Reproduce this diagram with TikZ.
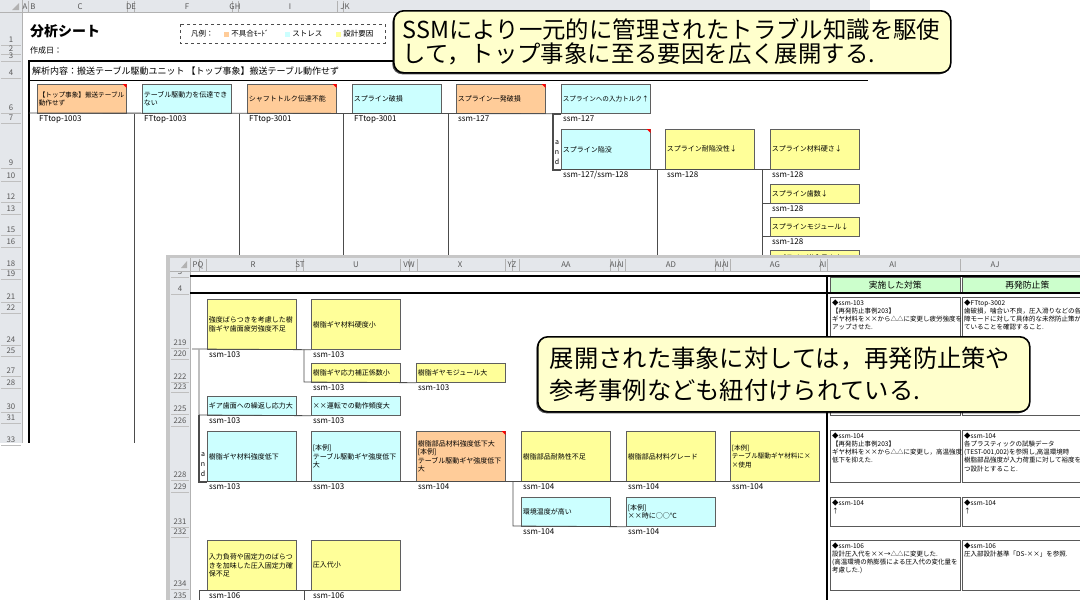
\documentclass[tikz,border=0pt]{standalone}
\usepackage{fontspec}
\setmainfont{Noto Sans CJK JP}
\usetikzlibrary{positioning,shadows}

\definecolor{modefill}{HTML}{FFCC99}
\definecolor{stressfill}{HTML}{CCFFFF}
\definecolor{designfill}{HTML}{FFFF99}
\definecolor{hdrgray}{HTML}{E4E7EB}
\definecolor{notefill}{HTML}{FFFFCC}
\definecolor{headgreen}{HTML}{CCFFCC}
\definecolor{boxline}{HTML}{5F5F5F}

% red comment mark in the top right corner of a box
\newcommand\redmark[1]{\fill[red] ([xshift=-4pt]#1.north east) -- (#1.north east) -- ([yshift=-4pt]#1.north east) -- cycle;}

\begin{document}
\begin{tikzpicture}[x=1pt, y=-1pt,
    evbox/.style={draw=boxline, line width=0.7pt, anchor=north west, text width=86pt,
      inner sep=1.5pt, align=left, font=\fontsize{7}{8.6}\selectfont},
    fmode/.style={evbox, fill=modefill},
    stressbox/.style={evbox, fill=stressfill},
    designbox/.style={evbox, fill=designfill},
    longtext/.style={font=\fontsize{6.6}{8.6}\selectfont},
    idlab/.style={inner sep=0pt, font=\fontsize{8}{8}\selectfont},
    rowno/.style={inner sep=0pt, text=black!65, font=\fontsize{7.8}{8}\selectfont},
    colno/.style={inner sep=0pt, text=black!65, font=\fontsize{7.8}{8}\selectfont},
    tline/.style={draw=black!70, line width=0.8pt},
    andline/.style={draw=black!70, line width=1.8pt},
    andtext/.style={inner sep=0pt, align=center, font=\fontsize{7}{10}\selectfont},
    tcell/.style={draw=black!65, line width=0.6pt, anchor=north west, inner sep=0pt},
    celltext/.style={anchor=north west, inner sep=0pt, align=left, font=\fontsize{6.5}{8.2}\selectfont},
    hcell/.style={draw=black!65, line width=0.6pt, fill=headgreen, anchor=north west,
      minimum height=16pt, inner sep=0pt, font=\fontsize{8.8}{9}\selectfont},
    notebox/.style={draw=black, line width=1.6pt, fill=notefill, rounded corners=10pt,
      anchor=north west, align=left,
      drop shadow={shadow xshift=-1.5pt, shadow yshift=-1.5pt, fill=black, opacity=0.7}},
    legtext/.style={inner sep=0pt, font=\fontsize{7.5}{8}\selectfont},
    legsq/.style={inner sep=0pt, minimum size=5pt},
  ]
\useasboundingbox (0,0) rectangle (1080,600);
\clip (0,0) rectangle (1080,600);
\fill[white] (0,0) rectangle (1080,600);

% Sheet 1: headers
\fill[hdrgray] (0,0) rectangle (870,12);
\fill[hdrgray] (0,12) rectangle (22,443);
\draw[black!30] (0,12) -- (870,12) (22,0) -- (22,443);
\fill[black!30] (19,3) -- (19,10) -- (12,10) -- cycle;
\foreach \x in {28.5,127,134.5,232,238.5,337,343.5}
  \draw[black!30] (\x,1) -- (\x,12);
\foreach \x/\c [count=\i] in {25/A,33/B,80/C,131/DE,187/F,235/GH,290/I,345/JK}
  \node[colno] (ca\i) at (\x,6.5) {\c};
\foreach \rn/\yy in {1/40,2/49,3/56,4/73,6/108,7/118,9/163,10/176,12/197,13/209,15/230,16/242,18/264,19/274,21/297,22/308,24/340,25/351,27/371,28/383,30/407,31/418,33/440}
  {\node[rowno] (ra\rn) at (11,\yy) {\rn};
   \draw[black!25] (1,\yy+5.5) -- (21,\yy+5.5);}

% Sheet 1: title and legend
\node[anchor=west, inner sep=0pt, font=\fontsize{14}{14}\selectfont\bfseries] (title) at (30,31) {分析シート};
\node[anchor=west, inner sep=0pt, font=\fontsize{8}{8}\selectfont] (made) at (30,50) {作成日：};
\draw[dashed, black!70] (180,24) rectangle (385,43);
\node[legtext, anchor=west] (leg) at (191,34) {凡例：};
\node[legsq, fill=modefill] (lm) at (226.5,34) {};
\node[legtext, right=2pt of lm] (lmt) {不具合ﾓｰﾄﾞ};
\node[legsq, fill=stressfill] (ls) at (287.5,34) {};
\node[legtext, right=2pt of ls] (lst) {ストレス};
\node[legsq, fill=designfill] (ld) at (338.5,34) {};
\node[legtext, right=2pt of ld] (ldt) {設計要因};

% Sheet 1: subject row
\draw[line width=1.4pt] (868,61) -- (29,61) -- (29,443);
\draw[line width=1pt] (29,80) -- (868,80);
\node[anchor=west, inner sep=0pt, font=\fontsize{9}{9}\selectfont] (subject) at (32,71)
  {解析内容：搬送テーブル駆動ユニット 【トップ事象】搬送テーブル動作せず};

% Sheet 1: events
\node[fmode, longtext, minimum height=29pt] (t1) at (37,84) {【トップ事象】搬送テーブル\\動作せず};
\node[stressbox, minimum height=29pt] (t2) at (142,84) {テーブル駆動力を伝達でき\\ない};
\node[fmode, minimum height=29pt] (t3) at (247,84) {シャフトトルク伝達不能};
\node[stressbox, minimum height=29pt] (t4) at (352,84) {スプライン破損};
\node[fmode, minimum height=29pt] (t5) at (456,84) {スプライン一発破損};
\node[stressbox, longtext, minimum height=29pt] (t6) at (561,84) {スプラインへの入力トルク↑};
\node[stressbox, minimum height=40pt] (s1) at (561,129) {スプライン陥没};
\node[designbox, minimum height=40pt] (s2) at (665,129) {スプライン耐陥没性↓};
\node[designbox, minimum height=40pt] (s3) at (770,129) {スプライン材料硬さ↓};
\node[designbox, minimum height=19pt] (s4) at (770,184) {スプライン歯数↓};
\node[designbox, minimum height=19pt] (s5) at (770,217) {スプラインモジュール↓};
\node[designbox, minimum height=15pt] (s6) at (770,250) {スプライン嵌合長さ↓};
\redmark{t1} \redmark{t3} \redmark{t5} \redmark{s1}

\node[idlab, below right=1.5pt and 2pt of t1.south west] (t1id) {FTtop-1003};
\node[idlab, below right=1.5pt and 2pt of t2.south west] (t2id) {FTtop-1003};
\node[idlab, below right=1.5pt and 2pt of t3.south west] (t3id) {FTtop-3001};
\node[idlab, below right=1.5pt and 2pt of t4.south west] (t4id) {FTtop-3001};
\node[idlab, below right=1.5pt and 2pt of t5.south west] (t5id) {ssm-127};
\node[idlab, below right=1.5pt and 2pt of t6.south west] (t6id) {ssm-127};
\node[idlab, below right=1.5pt and 2pt of s1.south west] (s1id) {ssm-127/ssm-128};
\node[idlab, below right=1.5pt and 2pt of s2.south west] (s2id) {ssm-128};
\node[idlab, below right=1.5pt and 2pt of s3.south west] (s3id) {ssm-128};
\node[idlab, below right=1.5pt and 2pt of s4.south west] (s4id) {ssm-128};
\node[idlab, below right=1.5pt and 2pt of s5.south west] (s5id) {ssm-128};
\node[andtext] (and1) at (557,153) {a\\n\\d};

% Sheet 1: tree lines
\coordinate (w1top) at (29,113);
\coordinate (v1) at (134,443);
\coordinate (v2) at (239,443);
\coordinate (v3) at (343,443);
\coordinate (v4) at (448,443);
\coordinate (a1) at (553,140);
\coordinate (v5) at (657,300);
\coordinate (v6) at (762,300);
\draw[tline] (w1top) -- (t6.south west);
\foreach \v in {v1,v2,v3,v4}
  \draw[tline] (\v |- t1.south) -- (\v);
\draw[andline] (t6.south west) -| (a1) |- (s1.south west);
\draw[tline] (s1.south west) -- (s3.south west);
\draw[tline] (v5 |- s1.south) -- (v5);
\draw[tline] (v6 |- s3.south) -- (v6);
\draw[tline] (v6 |- s4.south) -- (s4.south west);
\draw[tline] (v6 |- s5.south) -- (s5.south west);
\draw[tline] (v6 |- s6.south) -- (s6.south west);

% Note 1
\node[notebox, inner xsep=9pt, minimum width=557pt, minimum height=62pt, text width=539pt,
  font=\fontsize{23.4}{24}\selectfont] (note1) at (393,10)
  {SSMにより一元的に管理されたトラブル知識を駆使\\して，トップ事象に至る要因を広く展開する.};

% Sheet 2: window and headers
\fill[black!22] (166,255) rectangle (1080,600);
\fill[white] (170,258) rectangle (1080,600);
\fill[hdrgray] (170,271) rectangle (190,600);
\foreach \rn/\yy in {3/272,4/289,219/343,220/354,222/377,223/387,225/409,226/421,228/475,229/487,231/522,232/532,234/584,235/596}
  {\node[rowno] (rb\rn) at (180,\yy) {\rn};
   \draw[black!25] (171,\yy+5.5) -- (189,\yy+5.5);}
\fill[hdrgray] (170,258) rectangle (1080,271);
\draw[black!30] (170,271) -- (1080,271) (190,258) -- (190,600);
\fill[black!30] (187,261) -- (187,268) -- (181,268) -- cycle;
\foreach \x in {199,206,296,303,400,409,417,505,512,519,610,618,625,715,723,730,820,827,960}
  \draw[black!30] (\x,259) -- (\x,271);
\foreach \x/\c [count=\i] in {198/PQ,253/R,300/ST,356/U,409/VW,460/X,512/YZ,566/AA,617/AIAI,671/AD,722/AIAI,775/AG,823/AI,893/AI,995/AJ}
  \node[colno] (cb\i) at (\x,265) {\c};

% Sheet 2: countermeasure table
\node[hcell, minimum width=130pt] (h1) at (830,277) {実施した対策};
\node[hcell, minimum width=130pt] (h2) at (962,277) {再発防止策};
\draw[line width=1.3pt] (190,276) -- (1080,276);
\draw[line width=1.3pt] (190,293) -- (1080,293);
\draw[line width=1.5pt] (827,276) -- (827,600);

\node[tcell, minimum width=130pt, minimum height=118pt] (c1l) at (830,297) {};
\node[tcell, minimum width=130pt, minimum height=118pt] (c1r) at (962,297) {};
\node[tcell, minimum width=130pt, minimum height=52pt] (c2l) at (830,430) {};
\node[tcell, minimum width=130pt, minimum height=52pt] (c2r) at (962,430) {};
\node[tcell, minimum width=130pt, minimum height=29pt] (c3l) at (830,497) {};
\node[tcell, minimum width=130pt, minimum height=29pt] (c3r) at (962,497) {};
\node[tcell, minimum width=130pt, minimum height=50pt] (c4l) at (830,540) {};
\node[tcell, minimum width=130pt, minimum height=50pt] (c4r) at (962,540) {};

\node[celltext] (c1lt) at ([shift={(2,2.5)}]c1l.north west)
  {◆ssm-103\\【再発防止事例203】\\ギヤ材料を××から△△に変更し疲労強度を\\アップさせた.};
\node[celltext] (c1rt) at ([shift={(2,2.5)}]c1r.north west)
  {◆FTtop-3002\\歯破損，噛合い不良，圧入滑りなどの各\\障モードに対して具体的な未然防止策が\\ていることを確認すること.};
\node[celltext] (c2lt) at ([shift={(2,2.5)}]c2l.north west)
  {◆ssm-104\\【再発防止事例203】\\ギヤ材料を××から△△に変更し，高温強度\\低下を抑えた.};
\node[celltext] (c2rt) at ([shift={(2,2.5)}]c2r.north west)
  {◆ssm-104\\各プラスティックの試験データ\\(TEST-001,002)を参照し,高温環境時\\樹脂部品強度が入力荷重に対して裕度を\\つ設計とすること.};
\node[celltext] (c3lt) at ([shift={(2,2.5)}]c3l.north west) {◆ssm-104\\↑};
\node[celltext] (c3rt) at ([shift={(2,2.5)}]c3r.north west) {◆ssm-104\\↑};
\node[celltext] (c4lt) at ([shift={(2,2.5)}]c4l.north west)
  {◆ssm-106\\設計圧入代を××→△△に変更した.\\(高温環境の熱膨張による圧入代の変化量を\\考慮した.)};
\node[celltext] (c4rt) at ([shift={(2,2.5)}]c4r.north west)
  {◆ssm-106\\圧入部設計基準「DS-××」を参照.};

% Sheet 2: events
\node[designbox, minimum height=50pt] (r1) at (207,299) {強度ばらつきを考慮した樹\\脂ギヤ歯面疲労強度不足};
\node[designbox, minimum height=50pt] (r2) at (311,299) {樹脂ギヤ材料硬度小};
\node[designbox, minimum height=19pt] (r3) at (311,363) {樹脂ギヤ応力補正係数小};
\node[designbox, minimum height=19pt] (r4) at (416,363) {樹脂ギヤモジュール大};
\node[stressbox, minimum height=19pt] (r5) at (207,396) {ギア歯面への繰返し応力大};
\node[stressbox, minimum height=19pt] (r6) at (311,396) {××運転での動作頻度大};
\node[stressbox, minimum height=50pt] (r7) at (207,431) {樹脂ギヤ材料強度低下};
\node[stressbox, minimum height=50pt] (r8) at (311,431) {{[本例]}\\テーブル駆動ギヤ強度低下\\大};
\node[fmode, minimum height=50pt] (r9) at (416,431) {樹脂部品材料強度低下大\\{[本例]}\\テーブル駆動ギヤ強度低下\\大};
\node[designbox, minimum height=50pt] (r10) at (521,431) {樹脂部品耐熱性不足};
\node[designbox, minimum height=50pt] (r11) at (626,431) {樹脂部品材料グレード};
\node[designbox, longtext, minimum height=50pt] (r12) at (730,431) {{[本例]}\\テーブル駆動ギヤ材料に×\\×使用};
\node[stressbox, minimum height=29pt] (r13) at (521,497) {環境温度が高い};
\node[stressbox, minimum height=29pt] (r14) at (626,497) {{[本例]}\\××時に○○℃};
\node[designbox, minimum height=50pt] (r15) at (207,540) {入力負荷や固定力のばらつ\\きを加味した圧入固定力確\\保不足};
\node[designbox, minimum height=50pt] (r16) at (311,540) {圧入代小};
\redmark{r9}

\foreach \b/\t in {r1/ssm-103,r2/ssm-103,r3/ssm-103,r4/ssm-103,r5/ssm-103,r6/ssm-103,r7/ssm-103,r8/ssm-103,r9/ssm-104,r10/ssm-104,r11/ssm-104,r12/ssm-104,r13/ssm-104,r14/ssm-104,r15/ssm-106,r16/ssm-106}
  \node[idlab, below right=1.5pt and 2pt of \b.south west] (\b id) {\t};
\node[andtext] (and2) at (203,465) {a\\n\\d};

% Sheet 2: tree lines
\coordinate (p0) at (192,349);
\coordinate (p1) at (199,415);
\coordinate (p2) at (304,382);
\coordinate (p4) at (513,526);
\coordinate (p5) at (199,600);
\coordinate (p6) at (304,600);
\draw[tline] (p0) -- (r2.south west);
\draw[tline] (p1 |- r1.south) -- (p1) -- (r6.south west);
\draw[andline] (p1) |- (r7.south west);
\draw[tline] (r7.south west) -- (r12.south west);
\draw[tline] (p2 |- r2.south) -- (p2) -- (r4.south west);
\draw[tline] (p4 |- r10.south) -- (p4) -- (r14.south west);
\draw[tline] (p5 |- r15.south) -- (r16.south west);
\draw[tline] (p5 |- r15.south) -- (p5);
\draw[tline] (p6 |- r16.south) -- (p6);

% Note 2
\node[notebox, inner xsep=12pt, minimum width=492pt, minimum height=75pt, text width=468pt,
  font=\fontsize{24.3}{32}\selectfont] (note2) at (537,336)
  {展開された事象に対しては，再発防止策や\\参考事例なども紐付けられている.};
\end{tikzpicture}
\end{document}
